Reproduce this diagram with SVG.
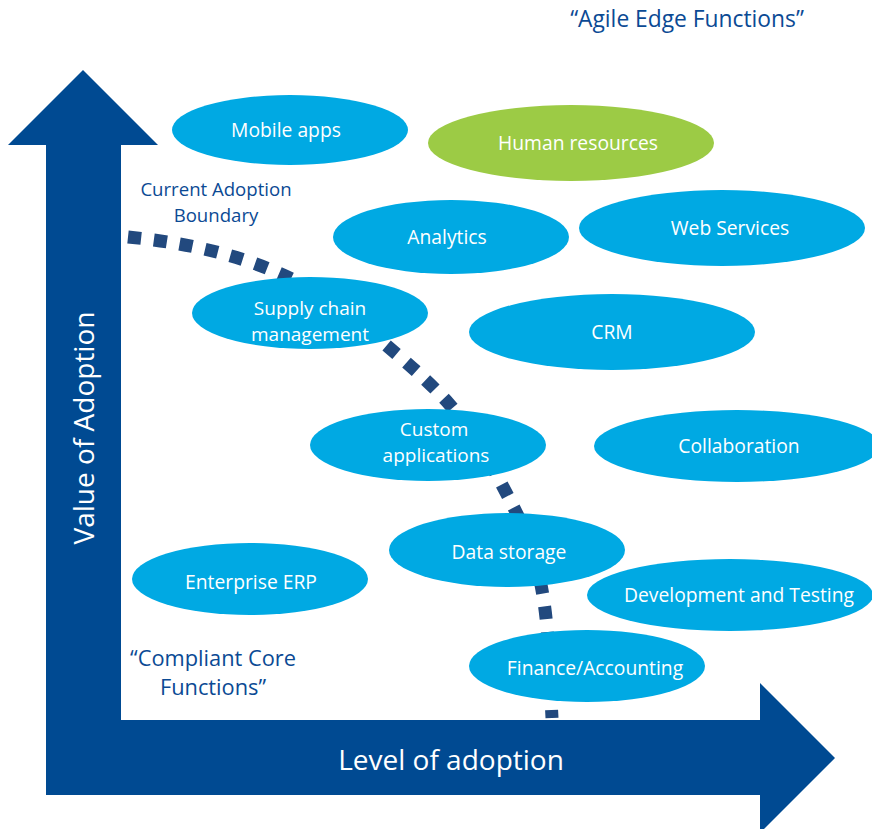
<svg xmlns="http://www.w3.org/2000/svg" width="872" height="829" viewBox="0 0 872 829">
<style>
.node ellipse{fill:#00a9e3}
.node.green ellipse{fill:#9ccb45}
.lbl{font-family:"Open Sans","Noto Sans",sans-serif;font-size:19.3px;fill:#ffffff;text-anchor:middle}
.lbl2{font-family:"Open Sans","Noto Sans",sans-serif;font-size:19px;fill:#ffffff;text-anchor:middle}
.note{font-family:"Open Sans","Noto Sans",sans-serif;fill:#0b4a94;text-anchor:middle}
.axis{font-family:"Open Sans","Noto Sans",sans-serif;font-size:28px;fill:#ffffff;text-anchor:middle}
</style>
<rect width="872" height="829" fill="#ffffff"/>
<g id="axes" fill="#004a92">
<path d="M46,145 L8,145 L83,70 L158,145 L121,145 L121,720 L760,720 L760,683 L835,758 L760,833 L760,795 L46,795 Z"/>
<text class="axis" x="84" y="428" transform="rotate(-90 84 428)" dy="10" font-size="29">Value of Adoption</text>
<text class="axis" x="451" y="770">Level of adoption</text>
</g>
<g id="connectors">
<path d="M128,237 C200,244 255,260 300,283 C340,305 420,370 450,405 C480,440 505,490 520,520 C540,565 545,600 548,640 L552,718" fill="none" stroke="#22497e" stroke-width="13" stroke-dasharray="13 13"/>
</g>
<g id="notes">
<text class="note" x="687" y="27" font-size="22.8">“Agile Edge Functions”</text>
<text class="note" font-size="18.6"><tspan x="216" y="196">Current Adoption</tspan><tspan x="216" y="221.5">Boundary</tspan></text>
<text class="note" font-size="21.8"><tspan x="213" y="665.5">“Compliant Core</tspan><tspan x="213" y="695">Functions”</tspan></text>
</g>
<g id="mobile" class="node"><ellipse cx="290" cy="130" rx="118" ry="35"/><text class="lbl" x="286" y="137">Mobile apps</text></g>
<g id="hr" class="node green"><ellipse cx="571" cy="143" rx="143" ry="38"/><text class="lbl" x="578" y="150">Human resources</text></g>
<g id="analytics" class="node"><ellipse cx="451" cy="237" rx="118" ry="37"/><text class="lbl" x="447" y="244">Analytics</text></g>
<g id="web" class="node"><ellipse cx="722" cy="228" rx="143" ry="38"/><text class="lbl" x="730" y="235">Web Services</text></g>
<g id="supply" class="node"><ellipse cx="310" cy="313" rx="118" ry="36"/><text class="lbl2"><tspan x="310" y="315">Supply chain</tspan><tspan x="310" y="341">management</tspan></text></g>
<g id="crm" class="node"><ellipse cx="612" cy="332" rx="143" ry="38"/><text class="lbl" x="612" y="339">CRM</text></g>
<g id="custom" class="node"><ellipse cx="428" cy="445" rx="118" ry="36"/><text class="lbl2"><tspan x="434" y="436">Custom</tspan><tspan x="436" y="462">applications</tspan></text></g>
<g id="collab" class="node"><ellipse cx="737" cy="446" rx="143" ry="36"/><text class="lbl" x="739" y="453">Collaboration</text></g>
<g id="data" class="node"><ellipse cx="507" cy="550" rx="118" ry="37"/><text class="lbl" x="509" y="559">Data storage</text></g>
<g id="erp" class="node"><ellipse cx="250" cy="579" rx="118" ry="36"/><text class="lbl" x="251" y="589">Enterprise ERP</text></g>
<g id="devtest" class="node"><ellipse cx="730" cy="595" rx="143" ry="36"/><text class="lbl" x="739" y="602">Development and Testing</text></g>
<g id="finance" class="node"><ellipse cx="587" cy="666" rx="118" ry="36"/><text class="lbl" x="595" y="675">Finance/Accounting</text></g>
</svg>
